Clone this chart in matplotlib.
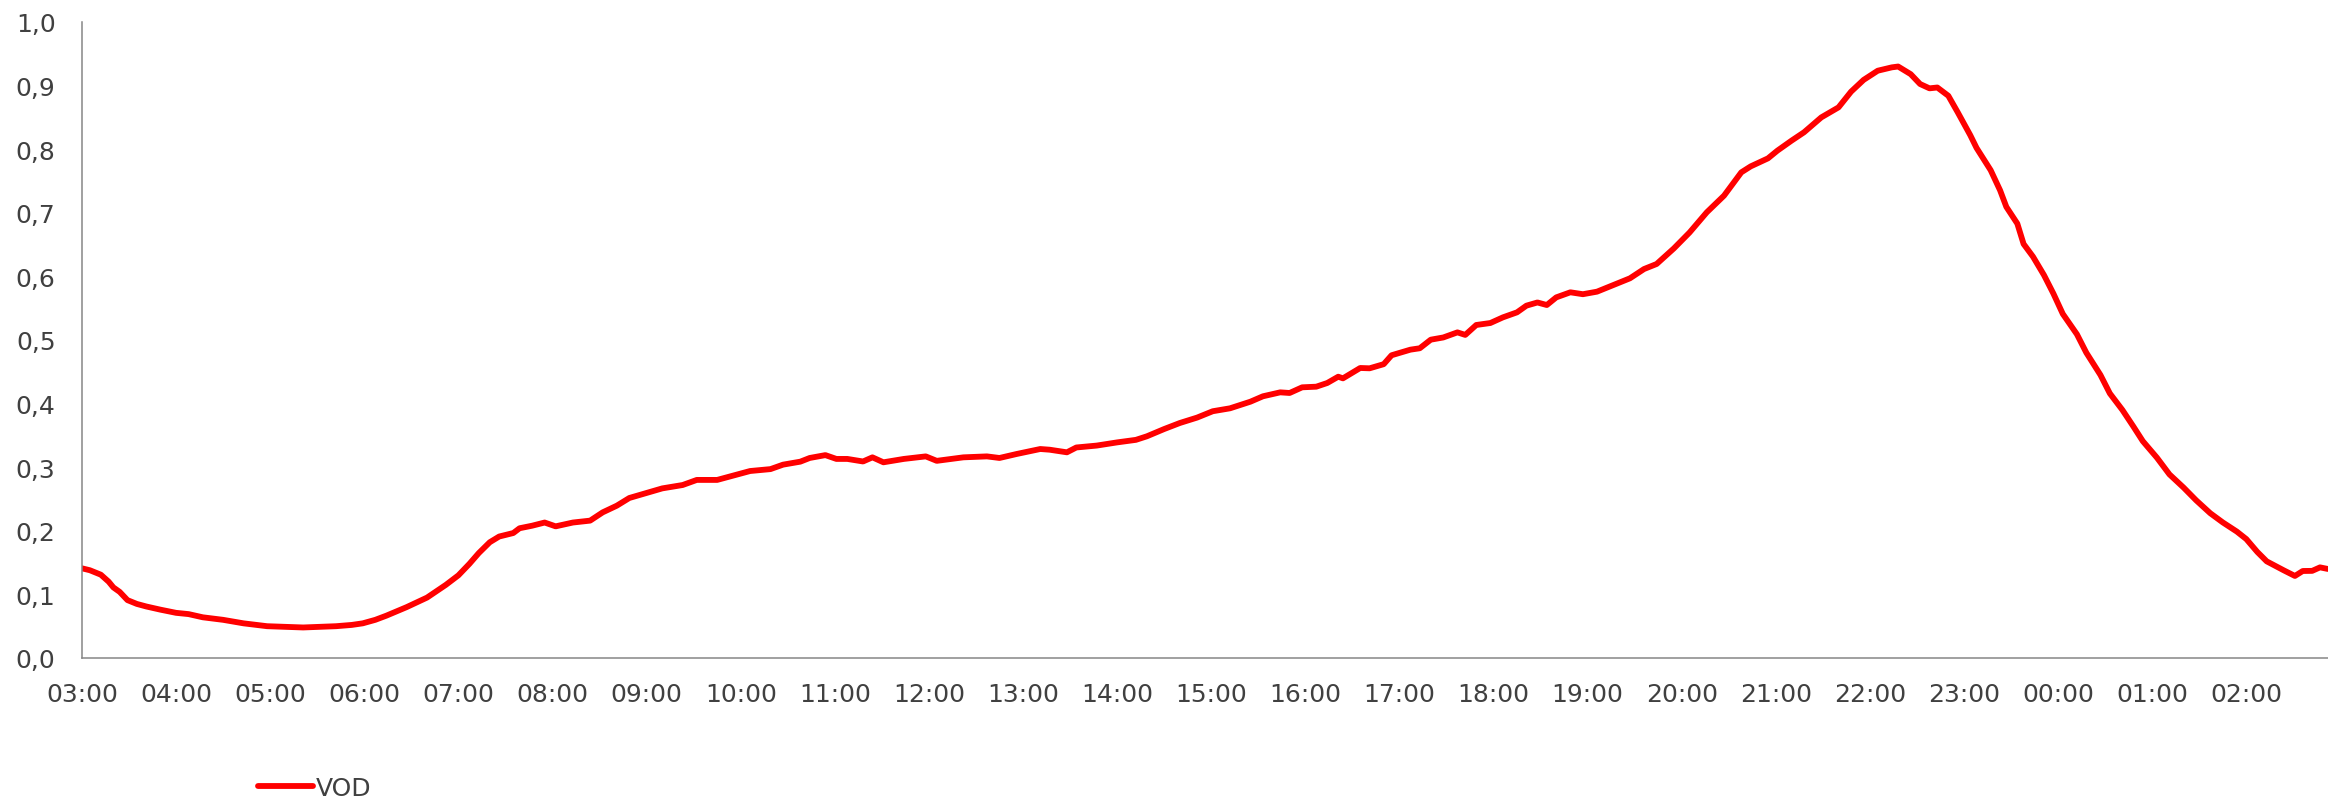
import matplotlib
matplotlib.use("Agg")
import matplotlib.pyplot as plt

# Minutes after 03:00 and the VOD values
minutes = [0, 5, 12, 17, 20, 24, 29, 35, 41, 50, 60, 68, 77, 90, 103, 118, 130, 141, 152, 162,
           172, 179, 187, 194, 207, 220, 232, 240, 247, 253, 260, 266, 275, 279, 287, 295, 302, 313, 324, 332,
           341, 349, 358, 370, 383, 392, 405, 415, 426, 439, 447, 458, 464, 474, 481, 488, 498, 504, 511, 524,
           538, 545, 562, 577, 585, 596, 611, 617, 628, 634, 647, 660, 672, 679, 690, 700, 711, 721, 732, 745,
           753, 764, 770, 778, 787, 794, 801, 804, 815, 821, 830, 835, 847, 853, 860, 868, 877, 882, 889, 898,
           906, 915, 921, 928, 934, 940, 949, 957, 966, 972, 987, 996, 1004, 1015, 1025, 1036, 1047, 1058, 1064, 1075,
           1081, 1090, 1098, 1109, 1120, 1128, 1136, 1145, 1154, 1158, 1166, 1172, 1178, 1183, 1190, 1196, 1204, 1208, 1217, 1223,
           1227, 1234, 1238, 1244, 1251, 1257, 1263, 1272, 1278, 1287, 1293, 1301, 1308, 1314, 1323, 1331, 1340, 1348, 1357, 1365,
           1374, 1380, 1387, 1393, 1404, 1411, 1416, 1422, 1427, 1432]
vod = [0.141, 0.138, 0.131, 0.120, 0.111, 0.104, 0.091, 0.085, 0.081, 0.076, 0.071, 0.069, 0.064, 0.060, 0.0545, 0.050, 0.049, 0.048, 0.049, 0.050,
       0.052, 0.0545, 0.060, 0.0665, 0.080, 0.095, 0.115, 0.130, 0.148, 0.165, 0.182, 0.191, 0.1965, 0.204, 0.208, 0.213, 0.207, 0.213, 0.216, 0.229,
       0.2395, 0.2516, 0.258, 0.2667, 0.272, 0.280, 0.280, 0.2866, 0.294, 0.297, 0.304, 0.3087, 0.3145, 0.319, 0.313, 0.313, 0.309, 0.3155, 0.3077, 0.313,
       0.317, 0.310, 0.3155, 0.317, 0.3145, 0.3208, 0.3286, 0.3275, 0.3234, 0.331, 0.334, 0.339, 0.343, 0.3486, 0.360, 0.3695, 0.378, 0.388, 0.3926, 0.403,
       0.4115, 0.4177, 0.4167, 0.4256, 0.4266, 0.4324, 0.4423, 0.4397, 0.456, 0.4555, 0.462, 0.476, 0.4848, 0.487, 0.5005, 0.504, 0.512, 0.508, 0.5236, 0.5267,
       0.5356, 0.5435, 0.554, 0.559, 0.555, 0.567, 0.575, 0.572, 0.576, 0.582, 0.597, 0.6116, 0.6195, 0.644, 0.669, 0.7008, 0.727, 0.7636, 0.773, 0.7856,
       0.7977, 0.8134, 0.8266, 0.850, 0.8658, 0.8905, 0.909, 0.9234, 0.9287, 0.930, 0.918, 0.9025, 0.8957, 0.897, 0.884, 0.858, 0.822, 0.802, 0.767, 0.7354,
       0.7093, 0.683, 0.651, 0.631, 0.602, 0.573, 0.541, 0.509, 0.480, 0.445, 0.416, 0.390, 0.364, 0.341, 0.315, 0.2887, 0.268, 0.248, 0.2277, 0.2132,
       0.1987, 0.187, 0.1668, 0.152, 0.1377, 0.129, 0.1368, 0.137, 0.1425, 0.140]

x_tick_labels = ["03:00", "04:00", "05:00", "06:00", "07:00", "08:00", "09:00", "10:00", "11:00", "12:00",
                 "13:00", "14:00", "15:00", "16:00", "17:00", "18:00", "19:00", "20:00", "21:00", "22:00",
                 "23:00", "00:00", "01:00", "02:00"]
y_ticks = [0.0, 0.1, 0.2, 0.3, 0.4, 0.5, 0.6, 0.7, 0.8, 0.9, 1.0]
y_tick_labels = ["0,0", "0,1", "0,2", "0,3", "0,4", "0,5", "0,6", "0,7", "0,8", "0,9", "1,0"]
series_name = "VOD"

plt.rcParams['font.family'] = ['DejaVu Sans']
W, H = 2328, 803
fig = plt.figure(figsize=(W / 100, H / 100), dpi=100)
left = 82 / W
bottom = (H - 659) / H
top = (H - 23) / H
ax = fig.add_axes([left, bottom, 1.0 - left, top - bottom])

line, = ax.plot(minutes, vod, color="#FF0000", linewidth=4.2, solid_capstyle="round",
                solid_joinstyle="round", label=series_name)

ax.set_xlim(0, (W - 82) / (94.1 / 60))
ax.set_ylim(0, 1.0)
ax.set_xticks([60 * i for i in range(len(x_tick_labels))])
ax.set_xticklabels(x_tick_labels)
ax.set_yticks(y_ticks)
ax.set_yticklabels(y_tick_labels)

for s in ["top", "right"]:
    ax.spines[s].set_visible(False)
for s in ["left", "bottom"]:
    ax.spines[s].set_color("#868686")
    ax.spines[s].set_linewidth(1.1)

ax.tick_params(axis="both", length=0, labelsize=18, labelcolor="#404040")
ax.tick_params(axis="y", pad=19)
ax.tick_params(axis="x", pad=17)

fig.legend(handles=[line], labels=[series_name], loc="center left",
           bbox_to_anchor=(258 / W, (H - 789) / H), frameon=False, fontsize=18,
           labelcolor="#404040", handlelength=2.2, handletextpad=0.1,
           borderpad=0, borderaxespad=0)

fig.savefig("out.png", dpi=100, facecolor="white")
